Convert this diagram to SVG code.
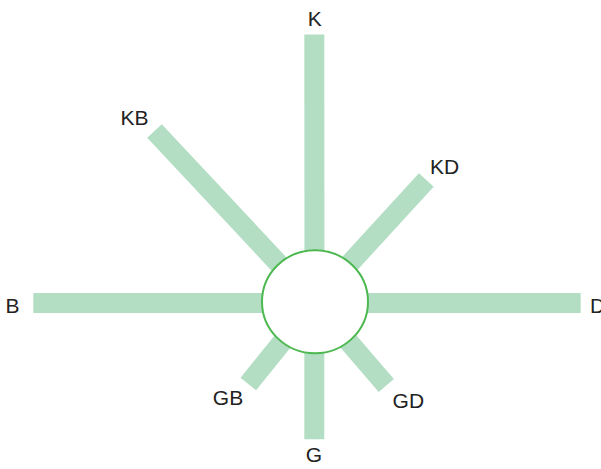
<svg xmlns="http://www.w3.org/2000/svg" width="601" height="469" viewBox="0 0 601 469">
<style>
.spoke{stroke:#b3dec4;stroke-width:20;stroke-linecap:butt;fill:none}
.lbl{font-family:"Liberation Sans",Arial,sans-serif;font-size:21px;fill:#222;text-anchor:middle}
</style>
<rect width="601" height="469" fill="#fff"/>
<g id="connectors">
<line class="spoke" x1="314.5" y1="302" x2="314.3" y2="34.5"/>
<line class="spoke" x1="314.5" y1="302" x2="154.5" y2="131"/>
<line class="spoke" x1="314.5" y1="302" x2="426.3" y2="180"/>
<line class="spoke" x1="314.5" y1="303" x2="33.3" y2="303"/>
<line class="spoke" x1="314.5" y1="303" x2="580.7" y2="303"/>
<line class="spoke" x1="314.5" y1="302" x2="248.3" y2="384"/>
<line class="spoke" x1="314.5" y1="302" x2="386.3" y2="385.5"/>
<line class="spoke" x1="314.3" y1="302" x2="314.3" y2="439.3"/>
</g>
<g id="center">
<ellipse cx="315" cy="301.7" rx="53" ry="51.5" fill="#fff" stroke="#4cb84f" stroke-width="2"/>
</g>
<g id="K"><text class="lbl" x="314.7" y="26">K</text></g>
<g id="KB"><text class="lbl" x="134.5" y="125">KB</text></g>
<g id="KD"><text class="lbl" x="444.7" y="173.5">KD</text></g>
<g id="B"><text class="lbl" x="12.5" y="312.7">B</text></g>
<g id="D"><text class="lbl" x="590" y="312.7" text-anchor="start" style="text-anchor:start">D</text></g>
<g id="GB"><text class="lbl" x="228" y="405">GB</text></g>
<g id="GD"><text class="lbl" x="408.3" y="407.7">GD</text></g>
<g id="G"><text class="lbl" x="314" y="462.3">G</text></g>
</svg>
